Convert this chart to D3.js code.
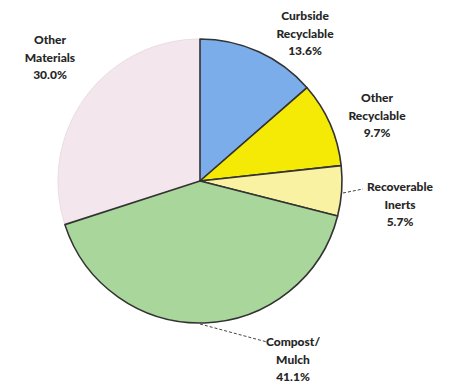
<!DOCTYPE html>
<html>
<head>
<meta charset="utf-8">
<script src="https://cdn.jsdelivr.net/npm/d3@7"></script>
<style>
  html, body { margin: 0; padding: 0; background: #fff; }
  #chart { width: 451px; height: 388px; }
  .lbl { font-family: Lato, "Open Sans", sans-serif; font-weight: 900; font-size: 12px; fill: #262626; }
</style>
</head>
<body>
<div id="chart"></div>
<script>
// data, clockwise from 12 o'clock
const categories = ["Curbside Recyclable", "Other Recyclable", "Recoverable Inerts", "Compost/ Mulch", "Other Materials"];
const shares = [13.6, 9.7, 5.7, 41.1, 30.0];
const labelLines = [
  ["Curbside", "Recyclable", "13.6%"],
  ["Other", "Recyclable", "9.7%"],
  ["Recoverable", "Inerts", "5.7%"],
  ["Compost/", "Mulch", "41.1%"],
  ["Other", "Materials", "30.0%"]
];
const colors = ["#7badea", "#f4ea06", "#f9f2a2", "#a9d79b", "#f3e6ec"];

const W = 451, H = 388;
const cx = 200, cy = 181, R = 142;

const svg = d3.select("#chart").append("svg").attr("width", W).attr("height", H);
const g = svg.append("g").attr("transform", `translate(${cx},${cy})`);

const pie = d3.pie().value(d => d).sort(null);
const arcs = pie(shares);
const arc = d3.arc().innerRadius(0).outerRadius(R);

// pink slice first with no dark outline, others on top
const order = [4, 0, 1, 2, 3];
g.selectAll("path.slice").data(order.map(i => ({ a: arcs[i], i })))
  .join("path")
  .attr("class", "slice")
  .attr("d", d => arc(d.a))
  .attr("fill", d => colors[d.i])
  .attr("stroke", d => d.i === 4 ? "#e9dde3" : "#333")
  .attr("stroke-width", d => d.i === 4 ? 1 : 1.6)
  .attr("stroke-linejoin", "round");

// label positions (text centre, first baseline)
const labelPos = [[305, 20], [377, 102], [400, 191], [293, 346], [50, 44]];
const lineH = 17.5;

labelLines.forEach((lines, i) => {
  const t = svg.append("text").attr("class", "lbl").attr("text-anchor", "middle")
    .attr("x", labelPos[i][0]).attr("y", labelPos[i][1]);
  lines.forEach((s, k) => t.append("tspan").attr("x", labelPos[i][0]).attr("dy", k ? lineH : 0).text(s));
});

// leader lines
const leaders = [
  [[200, 324], [267, 342]],
  [[343, 193], [363, 189]]
];
leaders.forEach(p => svg.append("path")
  .attr("d", d3.line()(p))
  .attr("fill", "none").attr("stroke", "#444").attr("stroke-width", 1)
  .attr("stroke-dasharray", "3,2"));
</script>
</body>
</html>
